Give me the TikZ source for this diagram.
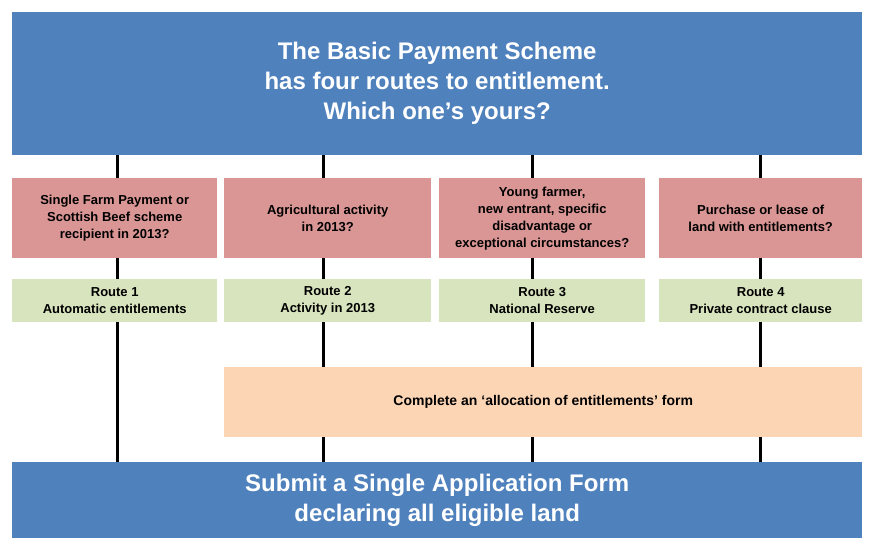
\documentclass[tikz,border=0pt]{standalone}
\usepackage{fontspec}
\setmainfont{Liberation Sans}
\definecolor{bblue}{HTML}{4F81BD}
\definecolor{bred}{HTML}{D99694}
\definecolor{bgreen}{HTML}{D7E4BD}
\definecolor{borange}{HTML}{FCD5B5}
\tikzset{
 box/.style={anchor=north west,inner sep=0pt,align=center,font=\bfseries},
 q/.style={box,fill=bred,font=\fontsize{13}{17}\selectfont\bfseries},
 r/.style={box,fill=bgreen,font=\fontsize{13}{17}\selectfont\bfseries},
 conn/.style={line width=3pt,black}
}
\begin{document}
\begin{tikzpicture}[x=1pt,y=-1pt]
\useasboundingbox (0,0) rectangle (874,552);
\fill[white] (0,0) rectangle (874,552);
\node[box,fill=bblue,text=white,minimum width=850pt,minimum height=143pt,font=\fontsize{24}{30}\selectfont\bfseries] (top) at (12,12) {The Basic Payment Scheme\\has four routes to entitlement.\\Which one’s yours?};
\node[box,fill=bblue,text=white,minimum width=850pt,minimum height=76pt,font=\fontsize{24}{30}\selectfont\bfseries] (bot) at (12,462) {Submit a Single Application Form\\declaring all eligible land};
\coordinate (t1) at (117,155); \coordinate (b1) at (117,462);
\coordinate (t2) at (323,155); \coordinate (b2) at (323,462);
\coordinate (t3) at (532,155); \coordinate (b3) at (532,462);
\coordinate (t4) at (760,155); \coordinate (b4) at (760,462);
\foreach \i in {1,...,4}{\draw[conn] (t\i) -- (b\i);}
\node[q,minimum width=205pt,minimum height=80pt] (q1) at (12,178) {Single Farm Payment or\\Scottish Beef scheme\\recipient in 2013?};
\node[q,minimum width=207pt,minimum height=80pt] (q2) at (224,178) {Agricultural activity\\in 2013?};
\node[q,minimum width=206pt,minimum height=80pt] (q3) at (439,178) {Young farmer,\\new entrant, specific\\disadvantage or\\exceptional circumstances?};
\node[q,minimum width=203pt,minimum height=80pt] (q4) at (659,178) {Purchase or lease of\\land with entitlements?};
\node[r,minimum width=205pt,minimum height=43pt] (r1) at (12,279) {Route 1\\Automatic entitlements};
\node[r,minimum width=207pt,minimum height=43pt] (r2) at (224,279) {Route 2\\Activity in 2013};
\node[r,minimum width=206pt,minimum height=43pt] (r3) at (439,279) {Route 3\\National Reserve};
\node[r,minimum width=203pt,minimum height=43pt] (r4) at (659,279) {Route 4\\Private contract clause};
\node[box,fill=borange,minimum width=638pt,minimum height=70pt,font=\fontsize{14}{17}\selectfont\bfseries] (form) at (224,367) {Complete an ‘allocation of entitlements’ form};
\end{tikzpicture}
\end{document}
